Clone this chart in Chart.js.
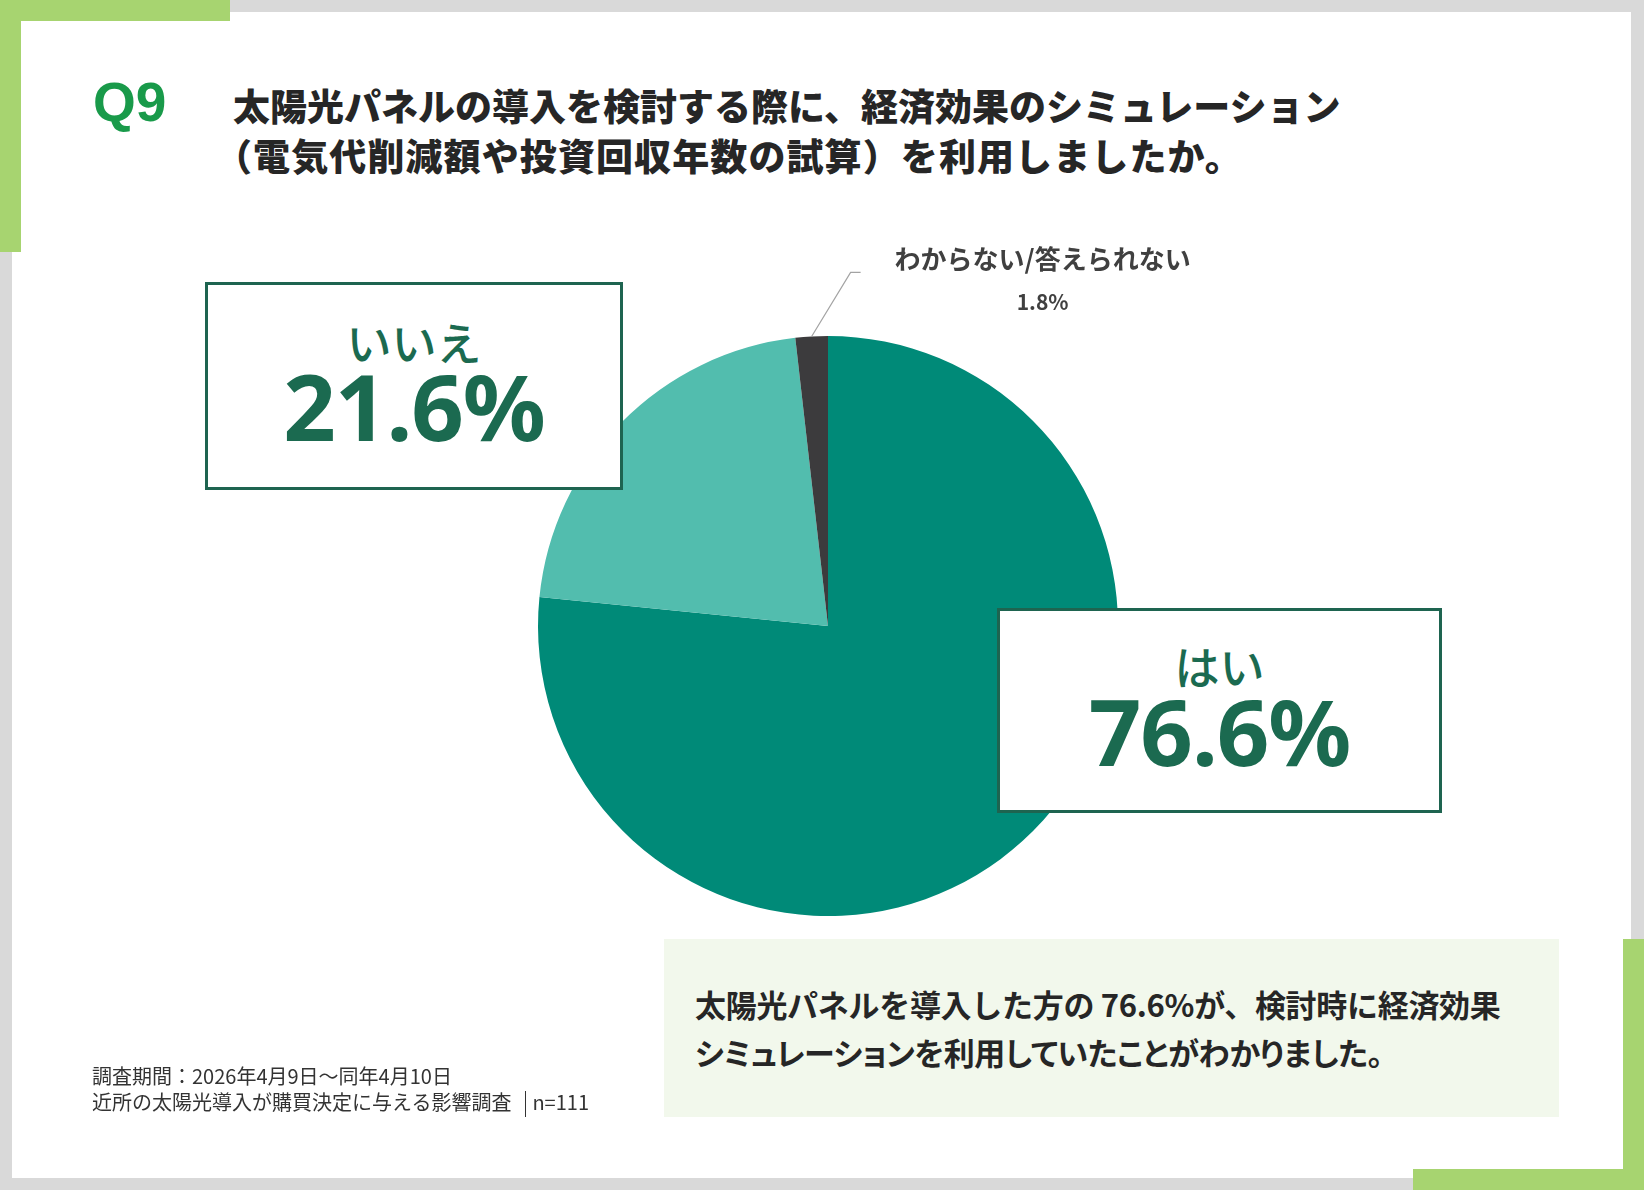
<!DOCTYPE html>
<html lang="ja">
<head>
<meta charset="utf-8">
<title>Q9 経済効果シミュレーションの利用</title>
<script src="https://cdn.jsdelivr.net/npm/chart.js@4.4.1/dist/chart.umd.min.js"></script>
<style>
  html, body { margin: 0; padding: 0; }
  body {
    width: 1644px; height: 1190px; position: relative; overflow: hidden;
    background: #d9d9d9;
    font-family: "Noto Sans CJK JP", "Noto Sans", sans-serif;
    color: #262626;
  }
  .card { position: absolute; left: 12px; top: 12px; width: 1619px; height: 1166px; background: #fff; }
  .bar { position: absolute; background: #a7d470; }
  .q { position: absolute; left: 93px; top: 72px; font: bold 55px "Liberation Sans", Arial, sans-serif; color: #199a4a; line-height: 60px; }
  .title { position: absolute; left: 233px; font-weight: 900; font-size: 37px; line-height: 44px; white-space: nowrap; }
  .chartWrap { position: absolute; left: 0; top: 0; width: 1644px; height: 1190px; }
  .box {
    position: absolute; box-sizing: border-box; background: #fff;
    border: 3px solid #1e6450; color: #1b6a50;
  }
  .box .lbl { position: absolute; left: 0; right: 0; text-align: center; font-size: 45px; font-weight: 500; line-height: 50px; }
  .box .val { position: absolute; left: 0; right: 0; text-align: center; font: 700 92px "Noto Sans", sans-serif; line-height: 94px; letter-spacing: -1px; }
  .summary { position: absolute; left: 664px; top: 939px; width: 895px; height: 178px; background: #f2f8ec; }
  .summary div { position: absolute; left: 31px; font-size: 31px; font-weight: 700; line-height: 40px; white-space: nowrap; }
  .note { position: absolute; left: 92px; font-size: 20px; line-height: 26px; color: #333; white-space: nowrap; }
  .sep { display: inline-block; width: 0; height: 26px; border-left: 1.5px solid #333; vertical-align: -7px; margin: 0 6px 0 14px; }
</style>
</head>
<body>
<div class="card"></div>
<div class="bar" style="left:0;top:0;width:230px;height:21px"></div>
<div class="bar" style="left:0;top:0;width:21px;height:252px"></div>
<div class="bar" style="left:1623px;top:939px;width:21px;height:251px"></div>
<div class="bar" style="left:1413px;top:1169px;width:231px;height:21px"></div>

<div class="q">Q9</div>
<div class="title" style="top:83px">太陽光パネルの導入を検討する際に、経済効果のシミュレーション</div>
<div class="title" style="top:133px;left:215px;letter-spacing:1.1px">（電気代削減額や投資回収年数の試算）を利用しましたか。</div>

<div class="chartWrap"><canvas id="pieChart"></canvas></div>
<div id="boxes"></div>

<div class="summary">
  <div style="top:45px;letter-spacing:-0.3px">太陽光パネルを導入した方の 76.6%が、検討時に経済効果</div>
  <div style="top:93px;font-feature-settings:'palt';letter-spacing:-0.4px">シミュレーションを利用していたことがわかりました。</div>
</div>

<div class="note" style="top:1063px">調査期間：2026年4月9日～同年4月10日</div>
<div class="note" style="top:1089px">近所の太陽光導入が購買決定に与える影響調査<span class="sep"></span>n=111</div>

<script>
  // answers (share of respondents, %)
  const answers = ["はい", "いいえ", "わからない/答えられない"];
  const shares = [76.6, 21.6, 1.8];
  const sliceColors = ["#008a78", "#52bdae", "#3c3b3d"];

  // which answers get a framed box and which one gets the leader-line callout
  const boxed = [0, 1];
  const calloutIndex = 2;

  // box placement on the page (label/value centres relative to the box top)
  const boxPlacement = [
    { left: 997, top: 608, width: 445, height: 205, labelY: 55, valueY: 123 },
    { left: 205, top: 282, width: 418, height: 208, labelY: 57, valueY: 124 },
  ];

  const boxesEl = document.getElementById("boxes");
  boxed.forEach((idx, n) => {
    const p = boxPlacement[n];
    const box = document.createElement("div");
    box.className = "box";
    box.style.cssText = `left:${p.left}px;top:${p.top}px;width:${p.width}px;height:${p.height}px`;
    box.innerHTML =
      `<div class="lbl" style="top:${p.labelY - 25}px">${answers[idx]}</div>` +
      `<div class="val" style="top:${p.valueY - 50}px">${shares[idx].toFixed(1)}%</div>`;
    boxesEl.appendChild(box);
  });

  // leader line + small label for the tiny slice
  const callout = {
    id: "callout",
    afterDatasetsDraw(chart) {
      const arc = chart.getDatasetMeta(0).data[calloutIndex];
      const mid = (arc.startAngle + arc.endAngle) / 2;
      const x0 = arc.x + Math.cos(mid) * arc.outerRadius;
      const y0 = arc.y + Math.sin(mid) * arc.outerRadius;
      const ctx = chart.ctx;
      ctx.save();
      ctx.strokeStyle = "#a3a3a3";
      ctx.lineWidth = 1.2;
      ctx.beginPath();
      ctx.moveTo(x0, y0);
      ctx.lineTo(x0 + 39, y0 - 64);
      ctx.lineTo(x0 + 49, y0 - 64);
      ctx.stroke();
      ctx.fillStyle = "#404040";
      ctx.textAlign = "center";
      ctx.textBaseline = "middle";
      ctx.font = 'bold 26px "Noto Sans CJK JP"';
      ctx.fillText(answers[calloutIndex], x0 + 231, y0 - 77);
      ctx.font = 'bold 21px "Noto Sans CJK JP"';
      ctx.fillText(shares[calloutIndex].toFixed(1) + "%", x0 + 231, y0 - 34);
      ctx.restore();
    }
  };

  new Chart(document.getElementById("pieChart"), {
    type: "pie",
    data: {
      labels: answers,
      datasets: [{
        data: shares,
        backgroundColor: sliceColors,
        borderWidth: 0,
        hoverOffset: 0,
      }],
    },
    options: {
      responsive: true,
      maintainAspectRatio: false,
      animation: false,
      layout: { padding: { left: 538, right: 526, top: 336, bottom: 274 } },
      plugins: {
        legend: { display: false },
        tooltip: { enabled: false },
      },
    },
    plugins: [callout],
  });
</script>
</body>
</html>
